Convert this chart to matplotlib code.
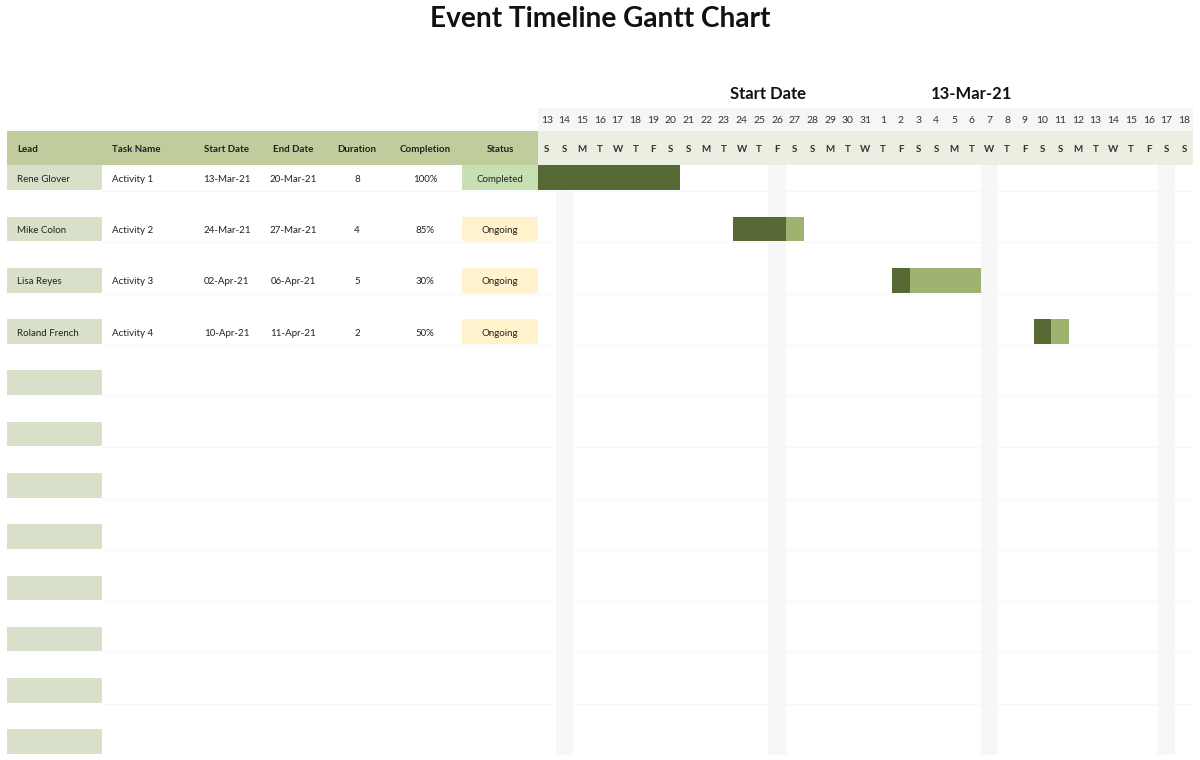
import matplotlib
matplotlib.use("Agg")
import matplotlib.pyplot as plt
import matplotlib.dates as mdates
import pandas as pd

plt.rcParams['font.family'] = ['Lato', 'DejaVu Sans']

# task table
leads = ['Rene Glover', 'Mike Colon', 'Lisa Reyes', 'Roland French']
tasks = ['Activity 1', 'Activity 2', 'Activity 3', 'Activity 4']
start_dates = ['2021-03-13', '2021-03-24', '2021-04-02', '2021-04-10']
end_dates = ['2021-03-20', '2021-03-27', '2021-04-06', '2021-04-11']
durations = [8, 4, 5, 2]
completion = [1.00, 0.85, 0.30, 0.50]
status = ['Completed', 'Ongoing', 'Ongoing', 'Ongoing']
n_rows = 12

columns = ['Lead', 'Task Name', 'Start Date', 'End Date', 'Duration', 'Completion', 'Status']

# timeline
timeline_start = '2021-03-13'
timeline_end = '2021-04-18'
shaded_days = ['2021-03-14', '2021-03-26', '2021-04-07', '2021-04-17']
start_label = '13-Mar-21'

# colours
HEAD_GREEN = '#c0cc9c'
LEAD_BG = '#d9e0c9'
WEEK_BG = '#ebefe1'
DAYNUM_BG = '#f6f6f4'
DARK = '#566834'
LIGHT = '#9fb26f'
STATUS_BG = {'Completed': '#c6e0b4', 'Ongoing': '#fff2cc'}
LINE = '#f7f7f7'

W, H = 1200, 760
fig = plt.figure(figsize=(12, 7.6), dpi=100)
fig.patch.set_facecolor('white')

# vertical frame shared by table and gantt (pixels from top)
top_px, bot_px = 108, 755
ax_bottom = 1 - bot_px / H
ax_height = (bot_px - top_px) / H
split_px = 538
right_px = 1193

YLIM = (11.5, -1.12)
CELL_H = 0.48
TXT_OFF = 0.03  # nudge text down a little to sit in the cell middle

# ---- left table ----
at = fig.add_axes([0, ax_bottom, split_px / W, ax_height])
at.set_xlim(0, split_px)
at.set_ylim(*YLIM)
at.axis('off')

# header band
at.barh(-0.68, split_px - 7, left=7, height=0.68, align='edge', color=HEAD_GREEN)
col_x = [17, 112, 227, 293, 357, 425, 500]
col_ha = ['left', 'left', 'center', 'center', 'center', 'center', 'center']
for name, x, ha in zip(columns, col_x, col_ha):
    at.text(x, -0.34 + TXT_OFF, name, ha=ha, va='center', fontsize=7, fontweight='bold', color='#222222')

rows = list(range(n_rows))
# lead cells on every row
at.barh(rows, 95, left=7, height=CELL_H, align='edge', color=LEAD_BG)
# faint row lines
for r in rows:
    at.plot([102, split_px], [r + CELL_H + 0.02] * 2, color=LINE, lw=0.8)

for i in range(len(tasks)):
    yc = i + CELL_H / 2 + TXT_OFF
    sd = pd.Timestamp(start_dates[i]).strftime('%d-%b-%y')
    ed = pd.Timestamp(end_dates[i]).strftime('%d-%b-%y')
    at.barh(i, 76, left=462, height=CELL_H, align='edge', color=STATUS_BG[status[i]])
    vals = [leads[i], tasks[i], sd, ed, str(durations[i]),
            f'{completion[i] * 100:.0f}%', status[i]]
    for v, x, ha in zip(vals, col_x, col_ha):
        at.text(x, yc, v, ha=ha, va='center', fontsize=7, color='#222222')

# ---- gantt ----
ag = fig.add_axes([split_px / W, ax_bottom, (right_px - split_px) / W, ax_height])
days = pd.date_range(timeline_start, timeline_end, freq='D')
x0 = mdates.date2num(days[0])
x1 = mdates.date2num(days[-1]) + 1
ag.set_xlim(x0, x1)
ag.set_ylim(*YLIM)
ag.axis('off')

# header rows
ag.barh(-1.12, x1 - x0, left=x0, height=0.44, align='edge', color=DAYNUM_BG)
ag.barh(-0.68, x1 - x0, left=x0, height=0.68, align='edge', color=WEEK_BG)
for d in days:
    xc = mdates.date2num(d) + 0.5
    ag.text(xc, -0.90 + TXT_OFF, str(d.day), ha='center', va='center', fontsize=7.5, color='#333333')
    ag.text(xc, -0.34 + TXT_OFF, d.strftime('%a')[0], ha='center', va='center',
            fontsize=7, fontweight='bold', color='#333333')

# shaded day columns
shade_x = mdates.date2num(pd.to_datetime(shaded_days))
ag.bar(shade_x, n_rows - 0.5, bottom=0, width=1, align='edge', color='#f7f7f7', zorder=0)

for r in rows:
    ag.plot([x0, x1], [r + CELL_H + 0.02] * 2, color=LINE, lw=0.8, zorder=0.5)

# task bars
for i in range(len(tasks)):
    s = mdates.date2num(pd.Timestamp(start_dates[i]))
    done = int(durations[i] * completion[i])
    ag.barh(i, durations[i], left=s, height=CELL_H, align='edge', color=LIGHT, zorder=2)
    ag.barh(i, done, left=s, height=CELL_H, align='edge', color=DARK, zorder=3)

# labels above timeline
fig.text(768 / W, 1 - 94 / H, 'Start Date', ha='center', va='center',
         fontsize=12, fontweight='bold', color='#111111')
fig.text(972 / W, 1 - 94 / H, start_label, ha='center', va='center',
         fontsize=12, fontweight='bold', color='#111111')

fig.text(0.5, 1 - 19 / H, 'Event Timeline Gantt Chart', ha='center', va='center',
         fontsize=20.2, fontweight='bold', color='#111111')

fig.savefig('out.png', dpi=100)
